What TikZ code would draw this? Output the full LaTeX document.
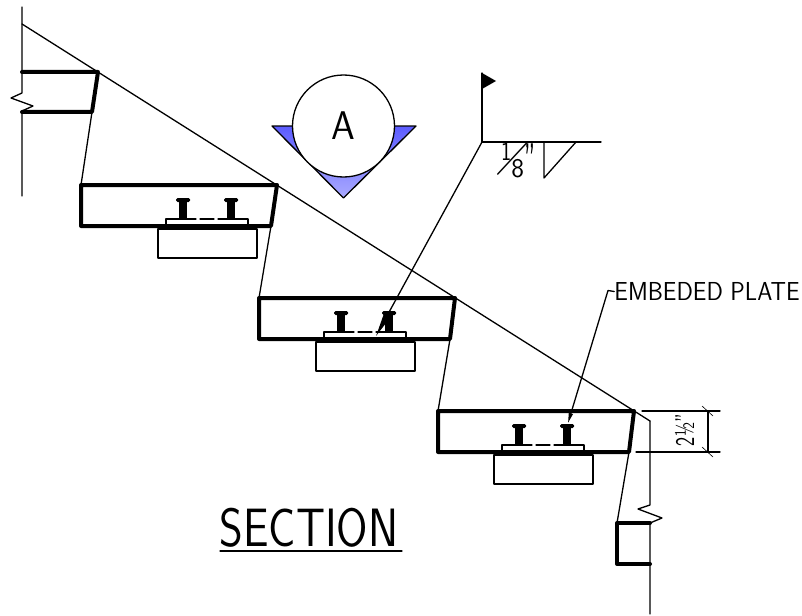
\documentclass[tikz,border=0pt]{standalone}
\usetikzlibrary{arrows.meta}
\definecolor{bubbleblue}{RGB}{92,92,255}
\definecolor{bubblelight}{RGB}{170,170,255}
\tikzset{
thinline/.style={line width=1.3pt,line cap=round,line join=round},
hairline/.style={line width=0.6pt},
thickline/.style={line width=4pt,line cap=round,line join=round},
cadtext/.style={inner sep=0pt,font=\sffamily\fontsize{#1}{#1}\selectfont},
}
\newcommand{\weldpart}[3]{\kern#1pt\makebox[0pt]{\raisebox{#2pt}{#3}}}
\begin{document}
\begin{tikzpicture}[x=1pt,y=-1pt,black]
\useasboundingbox (0,0) rectangle (802,615);

\draw[thinline] (22,7) -- (22,93) -- (11,98) -- (33,106) -- (22,111) -- (22,196);
\draw[thinline] (650,421) -- (650,505) -- (638,509) -- (662,518) -- (650,523) -- (650,614);
\draw[thinline] (22,24) -- (650,421);

\draw[thickline] (22,72) -- (98,72) -- (92,112) -- (22,112);
\draw[thickline] (650,523) -- (617,523) -- (617,564) -- (650,564);
\draw[thinline] (92,112) -- (81,185);
\draw[thinline] (629,452) -- (617,523);

\foreach \sx/\sy/\nx in {81/185/271,259/298/450,438/411/629}{
\draw[thickline] (\sx,\sy) -- (\sx+196,\sy) -- (\nx,\sy+41) -- (\sx,\sy+41) -- cycle;
}
\draw[thinline] (271,226) -- (259,298);
\draw[thinline] (450,339) -- (438,411);

\foreach \cx/\cy in {207/226,365/339,543/452}{
\draw[thinline] (\cx-49,\cy+3) rectangle (\cx+50,\cy+32);
\draw[thinline] (\cx-41,\cy) -- (\cx-41,\cy-7) -- (\cx-11,\cy-7);
\draw[thinline] (\cx-7,\cy-7) -- (\cx+7,\cy-7);
\draw[thinline] (\cx+11,\cy-7) -- (\cx+41,\cy-7) -- (\cx+41,\cy);
\foreach \bx in {-24,24}{
\fill (\cx+\bx-4,\cy-26) rectangle (\cx+\bx+4,\cy-6);
\fill[rounded corners=1.5pt] (\cx+\bx-7,\cy-28) rectangle (\cx+\bx+7,\cy-24);
}}

\shade[top color=bubbleblue,bottom color=bubblelight] (272,126) -- (416,126) -- (343.5,198) -- cycle;
\draw[thinline] (272,126) -- (416,126) -- (343.5,198) -- cycle;
\node[circle,draw,fill=white,line width=1.3pt,minimum size=102pt,inner sep=0pt,
cadtext=40] (bubble) at (343.5,126) {\scalebox{0.95}[1]{A}};

\coordinate (weldroot) at (482,142);
\coordinate (weldtip) at (376,336);
\draw[thinline] (weldroot) -- (482,73);
\fill (482,73) -- (496,81) -- (482,89) -- cycle;
\draw[thinline] (weldroot) -- (601,142);
\draw[thinline] (544,142) -- (544,178) -- (576,142);
\draw[thinline,-{Triangle[length=23pt,width=7pt]}] (weldroot) -- (weldtip);
\node[cadtext=27,anchor=base west] (weldsize) at (506,160)
{\weldpart{0}{0}{\scalebox{0.8}[1]{1}}\weldpart{7}{-9.5}{\fontsize{42}{42}\selectfont\rotatebox[origin=c]{-24}{/}}\weldpart{4.5}{-17}{8}\weldpart{12.5}{-18}{\fontsize{50}{50}\selectfont\scalebox{0.5}[1]{"}}};

\node[cadtext=26] (platelabel) at (707,291.5) {\scalebox{0.93}[1]{EMBEDED PLATE}};
\coordinate (platetip) at (568,423);
\draw[thinline,-{Triangle[length=10pt,width=4pt]}] (platelabel.west) -- (608,290.5) -- (platetip);

\draw[thinline] (642,411) -- (720,411);
\draw[thinline] (636,452) -- (720,452);
\draw[thinline] (708,411) -- (708,452);
\draw[hairline] (702,406) -- (713,416);
\draw[hairline] (702,447) -- (713,457);
\node[cadtext=27,rotate=90] (dimtext) at (684.5,430) {\scalebox{0.72}[1]{2½"}};

\node[cadtext=54] (sectiontitle) at (309,528) {\scalebox{0.84}[1]{SECTION}};
\draw[thinline] (220,551) -- (402,551);
\end{tikzpicture}
\end{document}
